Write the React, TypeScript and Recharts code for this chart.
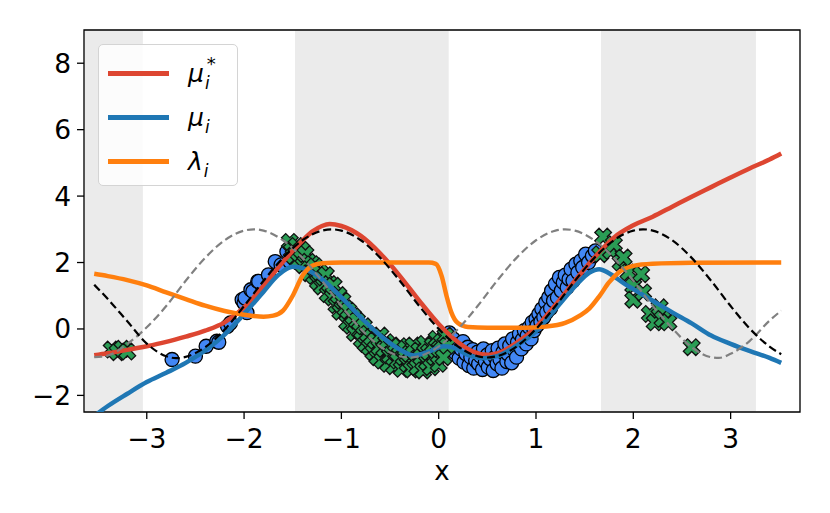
import React from "react";
import {
  ComposedChart,
  Line,
  Scatter,
  XAxis,
  YAxis,
  CartesianGrid,
  ReferenceArea,
} from "recharts";

document.body.style.margin = "0";

const FONT = "DejaVu Sans";

const X_DOMAIN: [number, number] = [-3.645, 3.713];
const Y_DOMAIN: [number, number] = [-2.5, 9];
const X_TICKS = [-3, -2, -1, 0, 1, 2, 3];
const Y_TICKS = [-2, 0, 2, 4, 6, 8];

// shaded x-intervals
const SHADED: [number, number][] = [
  [-3.645, -3.04],
  [-1.477, 0.103],
  [1.668, 3.26],
];

// black dashed: true function
const F_TRUE: [number, number][] = [
  [-3.54, 1.33], [-3.4, 0.9], [-3.2, 0.23], [-3.0, -0.44], [-2.8, -0.82], [-2.7, -0.88],
  [-2.6, -0.84], [-2.4, -0.55], [-2.2, -0.02], [-2.0, 0.69], [-1.8, 1.45], [-1.6, 2.14],
  [-1.4, 2.67], [-1.2, 2.96], [-1.1, 3.0], [-1.0, 2.96], [-0.8, 2.67], [-0.6, 2.14],
  [-0.4, 1.45], [-0.2, 0.69], [0, 0], [0.2, -0.53], [0.4, -0.82], [0.5, -0.86],
  [0.6, -0.82], [0.8, -0.53], [1.0, 0], [1.2, 0.69], [1.4, 1.45], [1.6, 2.14],
  [1.8, 2.67], [2.0, 2.96], [2.1, 3.0], [2.2, 2.96], [2.4, 2.67], [2.6, 2.14],
  [2.8, 1.45], [3.0, 0.69], [3.2, 0], [3.4, -0.53], [3.52, -0.76],
];

// gray dashed: shifted function
const F_SHIFT: [number, number][] = [
  [-3.54, -0.85], [-3.4, -0.8], [-3.2, -0.45], [-3.0, 0.05], [-2.8, 0.69], [-2.6, 1.45],
  [-2.4, 2.14], [-2.2, 2.67], [-2.0, 2.96], [-1.9, 3.0], [-1.8, 2.96], [-1.6, 2.67],
  [-1.4, 2.14], [-1.2, 1.45], [-1.0, 0.69], [-0.8, 0], [-0.6, -0.53], [-0.4, -0.82],
  [-0.3, -0.86], [-0.2, -0.82], [0, -0.53], [0.2, 0], [0.4, 0.69], [0.6, 1.45],
  [0.8, 2.14], [1.0, 2.67], [1.2, 2.96], [1.3, 3.0], [1.4, 2.96], [1.6, 2.67],
  [1.8, 2.14], [2.0, 1.45], [2.2, 0.69], [2.4, 0.02], [2.6, -0.55], [2.8, -0.85],
  [2.88, -0.87], [3.0, -0.75], [3.2, -0.35], [3.4, 0.25], [3.52, 0.55],
];

const MU_STAR: [number, number][] = [
  [-3.54, -0.79], [-3.4, -0.73], [-3.2, -0.63], [-3.0, -0.52], [-2.8, -0.39], [-2.6, -0.23],
  [-2.4, -0.05], [-2.2, 0.2], [-2.0, 0.65], [-1.8, 1.3], [-1.6, 2.02], [-1.4, 2.66],
  [-1.3, 2.93], [-1.2, 3.1], [-1.12, 3.16], [-1.0, 3.1], [-0.8, 2.8], [-0.6, 2.27],
  [-0.4, 1.6], [-0.2, 0.85], [0, 0.15], [0.2, -0.4], [0.35, -0.68], [0.5, -0.78],
  [0.65, -0.68], [0.8, -0.42], [1.0, 0.05], [1.2, 0.72], [1.4, 1.45], [1.6, 2.15],
  [1.8, 2.75], [2.0, 3.12], [2.2, 3.38], [2.4, 3.68], [2.6, 3.98], [2.8, 4.27],
  [3.0, 4.56], [3.2, 4.84], [3.4, 5.1], [3.52, 5.28],
];

const MU: [number, number][] = [
  [-3.54, -2.62], [-3.4, -2.32], [-3.2, -1.95], [-3.0, -1.6], [-2.8, -1.32], [-2.6, -1.02],
  [-2.4, -0.65], [-2.2, -0.17], [-2.0, 0.45], [-1.8, 1.12], [-1.65, 1.62], [-1.5, 1.87],
  [-1.4, 1.83], [-1.3, 1.7], [-1.2, 1.5], [-1.0, 0.95], [-0.8, 0.35], [-0.6, -0.2],
  [-0.4, -0.62], [-0.25, -0.8], [-0.1, -0.68], [0.05, -0.52], [0.15, -0.56], [0.3, -0.78],
  [0.45, -0.88], [0.6, -0.82], [0.8, -0.5], [1.0, -0.07], [1.2, 0.6], [1.4, 1.28],
  [1.55, 1.7], [1.65, 1.8], [1.75, 1.68], [1.9, 1.38], [2.0, 1.2], [2.2, 0.85],
  [2.4, 0.5], [2.6, 0.17], [2.8, -0.2], [3.0, -0.45], [3.2, -0.67], [3.4, -0.87],
  [3.52, -1.02],
];

const LAMBDA: [number, number][] = [
  [-3.54, 1.66], [-3.4, 1.59], [-3.2, 1.47], [-3.0, 1.31], [-2.8, 1.1], [-2.6, 0.9],
  [-2.4, 0.7], [-2.2, 0.54], [-2.0, 0.43], [-1.8, 0.37], [-1.7, 0.4], [-1.6, 0.55],
  [-1.5, 1.0], [-1.4, 1.6], [-1.3, 1.9], [-1.2, 1.98], [-1.0, 2.0], [-0.5, 2.0],
  [-0.1, 2.0], [-0.03, 1.96], [0.03, 1.6], [0.08, 1.0], [0.13, 0.5], [0.2, 0.17],
  [0.3, 0.06], [0.5, 0.04], [0.9, 0.04], [1.1, 0.07], [1.3, 0.18], [1.45, 0.4],
  [1.55, 0.62], [1.65, 0.98], [1.75, 1.4], [1.85, 1.7], [2.0, 1.9], [2.2, 1.96],
  [2.6, 1.99], [3.52, 2.0],
];

// blue circles (observations)
const OBS_CIRCLES: [number, number][] = [
  [-2.74, -0.92], [-2.5, -0.82], [-2.39, -0.52], [-2.28, -0.37], [-2.26, -0.4], [-2.17, 0.08],
  [-2.14, 0.18], [-2.02, 0.88], [-2.0, 0.78], [-1.99, 0.93], [-1.97, 0.49], [-1.93, 1.18],
  [-1.91, 1.13], [-1.86, 1.43], [-1.85, 1.43], [-1.75, 1.63], [-1.68, 2.03], [-1.62, 1.93],
  [-1.56, 2.33], [-1.53, 2.03], [-1.51, 2.48],
  [0.06, -0.2], [0.09, -0.42], [0.11, -0.12], [0.13, -0.55], [0.15, -0.3], [0.17, -0.72],
  [0.19, -0.48], [0.21, -0.88], [0.23, -0.6], [0.25, -0.38], [0.26, -1.0], [0.28, -0.75],
  [0.3, -0.55], [0.31, -1.1], [0.33, -0.85], [0.35, -0.62], [0.36, -1.18], [0.38, -0.95],
  [0.4, -0.7], [0.41, -1.05], [0.43, -0.82], [0.45, -1.22], [0.46, -0.6], [0.48, -0.98],
  [0.5, -0.78], [0.51, -1.15], [0.53, -0.9], [0.55, -0.65], [0.56, -1.25], [0.58, -0.85],
  [0.6, -1.05], [0.61, -0.58], [0.63, -0.92], [0.65, -1.18], [0.66, -0.7], [0.68, -0.45],
  [0.7, -0.98], [0.71, -0.75], [0.73, -0.5], [0.75, -1.02], [0.76, -0.3], [0.78, -0.65],
  [0.8, -0.85], [0.81, -0.4], [0.83, -0.15], [0.85, -0.6], [0.86, -0.32], [0.88, -0.05],
  [0.9, -0.45], [0.91, -0.2], [0.93, 0.05], [0.95, -0.3], [0.96, 0.2], [0.98, -0.05],
  [1.0, 0.3], [1.01, 0.1], [1.03, 0.45], [1.05, 0.22], [1.06, 0.6], [1.08, 0.35],
  [1.1, 0.8], [1.11, 0.5], [1.13, 0.95], [1.15, 0.62], [1.16, 1.15], [1.18, 0.85],
  [1.2, 1.35], [1.22, 0.95], [1.24, 1.55], [1.26, 1.15], [1.28, 1.4], [1.3, 1.62],
  [1.32, 1.25], [1.34, 1.5], [1.36, 1.8], [1.38, 1.45], [1.41, 1.95], [1.43, 1.7],
  [1.46, 2.05], [1.48, 1.85], [1.51, 2.25], [1.54, 2.0], [1.58, 2.2], [1.61, 2.35],
];

// green crosses (shifted observations)
const OBS_CROSSES: [number, number][] = [
  [-3.36, -0.62], [-3.3, -0.7], [-3.25, -0.6], [-3.2, -0.68],
  [-1.53, 2.62], [-1.51, 2.35], [-1.49, 2.2], [-1.46, 2.5], [-1.44, 2.05], [-1.41, 2.38],
  [-1.39, 1.92], [-1.37, 2.25], [-1.34, 2.02], [-1.33, 1.68], [-1.3, 1.95], [-1.28, 1.6],
  [-1.27, 1.88], [-1.24, 1.42], [-1.22, 1.7], [-1.2, 1.28], [-1.18, 1.55], [-1.16, 1.62],
  [-1.14, 1.05], [-1.12, 1.35], [-1.09, 0.95], [-1.08, 1.3], [-1.05, 0.72], [-1.03, 1.02],
  [-1.01, 0.52], [-0.99, 0.85], [-0.96, 0.62], [-0.94, 0.2], [-0.93, 0.55], [-0.9, 0.1],
  [-0.88, 0.38], [-0.86, -0.12], [-0.84, 0.25], [-0.81, -0.05], [-0.79, -0.32], [-0.77, 0.08],
  [-0.75, -0.45], [-0.73, -0.15], [-0.71, -0.55], [-0.69, -0.25], [-0.67, -0.7], [-0.65, -0.35],
  [-0.63, -0.85], [-0.61, -0.55], [-0.6, -0.2], [-0.58, -0.95], [-0.56, -0.6], [-0.54, -0.4],
  [-0.52, -1.05], [-0.5, -0.8], [-0.48, -0.5], [-0.46, -1.12], [-0.44, -0.7], [-0.42, -0.95],
  [-0.4, -0.52], [-0.38, -1.2], [-0.36, -0.85], [-0.34, -0.6], [-0.32, -1.05], [-0.3, -0.75],
  [-0.28, -1.22], [-0.26, -0.5], [-0.24, -0.95], [-0.22, -1.15], [-0.2, -0.65], [-0.18, -0.85],
  [-0.16, -1.25], [-0.14, -0.45], [-0.12, -1.0], [-0.1, -0.7], [-0.08, -1.15], [-0.06, -0.5],
  [-0.04, -0.85], [-0.02, -0.3], [0.0, -1.05], [0.01, -0.6], [0.03, -0.4], [0.05, -0.85],
  [0.07, -0.2], [0.09, -0.5],
  [1.69, 2.78], [1.66, 2.25], [1.77, 2.35], [1.8, 2.55], [1.87, 2.0], [1.9, 2.15],
  [1.95, 1.7], [2.0, 1.3], [2.08, 1.65], [2.0, 0.88], [2.1, 1.1], [2.17, 0.45],
  [2.22, 0.2], [2.27, 0.65], [2.3, 0.3], [2.36, 0.2], [2.6, -0.55],
];

const toRows = (pts: [number, number][]) => pts.map(([x, y]) => ({ x, y }));

const fmt = (v: number) => (v < 0 ? `\u2212${Math.abs(v)}` : `${v}`);

const RED = "#dd4631";
const BLUE = "#1f77b4";
const ORANGE = "#ff7f0e";

const W = 830;
const H = 513;
const MARGIN = { top: 30, right: 30, bottom: 0, left: 0 };
const XAXIS_H = 101;
const YAXIS_W = 84;
const TICK_FS = 26.5;

function XTick(props: any) {
  const { x, y, payload } = props;
  return (
    <text x={x} y={y} dy={19} textAnchor="middle" fontSize={TICK_FS} fontFamily={FONT} fill="#000">
      {fmt(payload.value)}
    </text>
  );
}

function YTick(props: any) {
  const { x, y, payload } = props;
  return (
    <text x={x} y={y} dy={9.5} textAnchor="end" fontSize={TICK_FS} fontFamily={FONT} fill="#000">
      {fmt(payload.value)}
    </text>
  );
}

function CircleMarker(props: any) {
  const { cx, cy } = props;
  if (cx == null || cy == null) return null;
  return <circle cx={cx} cy={cy} r={7} fill="#4287f5" stroke="#000" strokeWidth={1.3} />;
}

function CrossMarker(props: any) {
  const { cx, cy } = props;
  if (cx == null || cy == null) return null;
  // thick X: a plus rotated by 45 degrees
  const L = 8.8;
  const a = 3;
  const base = [
    [a, L], [a, a], [L, a], [L, -a], [a, -a], [a, -L],
    [-a, -L], [-a, -a], [-L, -a], [-L, a], [-a, a], [-a, L],
  ];
  const c = Math.SQRT1_2;
  const d = base
    .map(([px, py], i) => {
      const rx = (px - py) * c;
      const ry = (px + py) * c;
      return `${i === 0 ? "M" : "L"}${cx + rx},${cy + ry}`;
    })
    .join(" ") + " Z";
  return <path d={d} fill="#2a9d55" stroke="#111" strokeWidth={1.3} strokeLinejoin="miter" />;
}

const LEGEND_ITEMS = [
  { color: RED, sym: "μ", star: true },
  { color: BLUE, sym: "μ", star: false },
  { color: ORANGE, sym: "λ", star: false },
];

function LegendBox() {
  return (
    <div
      style={{
        position: "absolute",
        left: 98,
        top: 44,
        width: 140,
        height: 142,
        boxSizing: "border-box",
        border: "1.3px solid #d4d4d4",
        borderRadius: 5,
        background: "rgba(255,255,255,0.85)",
        fontFamily: FONT,
      }}
    >
      {LEGEND_ITEMS.map((it, i) => (
        <div key={i}>
          <div
            style={{
              position: "absolute",
              left: 9,
              top: 26 + i * 44,
              width: 61,
              height: 4.5,
              background: it.color,
            }}
          />
          <div
            style={{
              position: "absolute",
              left: 89,
              top: 14 + i * 44,
              height: 30,
              fontSize: 25,
              lineHeight: "30px",
              fontStyle: "italic",
              color: "#000",
              whiteSpace: "nowrap",
            }}
          >
            {it.sym}
            <span style={{ fontSize: 17, position: "relative", top: 7, marginLeft: 1 }}>i</span>
            {it.star && (
              <span style={{ fontSize: 18, fontStyle: "normal", position: "relative", top: -12, left: -3 }}>*</span>
            )}
          </div>
        </div>
      ))}
    </div>
  );
}

export default function App() {
  const layer: React.CSSProperties = { position: "absolute", left: 0, top: 0 };
  return (
    <div style={{ position: "relative", width: W, height: H, background: "#fff", fontFamily: FONT }}>
      {/* background layer: shading, grid, scattered observations */}
      <div style={layer}>
        <ComposedChart width={W} height={H} margin={MARGIN}>
          {SHADED.map(([a, b], i) => (
            <ReferenceArea
              key={i}
              x1={a}
              x2={b}
              fill="#ebebeb"
              fillOpacity={1}
              stroke="none"
              ifOverflow="hidden"
            />
          ))}
          <CartesianGrid stroke="#000" strokeOpacity={0.08} strokeWidth={1.2} />
          <XAxis type="number" dataKey="x" domain={X_DOMAIN} ticks={X_TICKS} allowDataOverflow
            height={XAXIS_H} tick={false} tickLine={false} axisLine={false} />
          <YAxis type="number" domain={Y_DOMAIN} ticks={Y_TICKS} allowDataOverflow
            width={YAXIS_W} tick={false} tickLine={false} axisLine={false} />
          <Scatter data={toRows(OBS_CIRCLES)} dataKey="y" shape={CircleMarker}
            isAnimationActive={false} legendType="none" />
          <Scatter data={toRows(OBS_CROSSES)} dataKey="y" shape={CrossMarker}
            isAnimationActive={false} legendType="none" />
        </ComposedChart>
      </div>
      {/* foreground layer: curves, axes and frame */}
      <div style={layer}>
        <ComposedChart width={W} height={H} margin={MARGIN}>
          <XAxis
            type="number"
            dataKey="x"
            domain={X_DOMAIN}
            ticks={X_TICKS}
            allowDataOverflow
            height={XAXIS_H}
            tickSize={7}
            tickMargin={10}
            tick={<XTick />}
            axisLine={false}
            tickLine={{ stroke: "#000", strokeWidth: 1.3 }}
            label={(p: any) => {
              const vb = p.viewBox;
              return (
                <text
                  x={vb.x + vb.width / 2}
                  y={vb.y + 68}
                  textAnchor="middle"
                  fontSize={26}
                  fontFamily={FONT}
                  fill="#000"
                >
                  x
                </text>
              );
            }}
          />
          <YAxis
            type="number"
            domain={Y_DOMAIN}
            ticks={Y_TICKS}
            allowDataOverflow
            width={YAXIS_W}
            tickSize={7}
            tickMargin={6}
            tick={<YTick />}
            axisLine={false}
            tickLine={{ stroke: "#000", strokeWidth: 1.3 }}
          />
          <Line data={toRows(MU_STAR)} dataKey="y" type="monotone" stroke={RED} strokeWidth={4.5}
            dot={false} activeDot={false} isAnimationActive={false} />
          <Line data={toRows(MU)} dataKey="y" type="monotone" stroke={BLUE} strokeWidth={4.5}
            dot={false} activeDot={false} isAnimationActive={false} />
          <Line data={toRows(LAMBDA)} dataKey="y" type="monotone" stroke={ORANGE} strokeWidth={4.5}
            dot={false} activeDot={false} isAnimationActive={false} />
          <Line data={toRows(F_SHIFT)} dataKey="y" type="monotone" stroke="#808080" strokeWidth={2.2}
            strokeDasharray="8 4" dot={false} activeDot={false} isAnimationActive={false} />
          <Line data={toRows(F_TRUE)} dataKey="y" type="monotone" stroke="#000" strokeWidth={2.2}
            strokeDasharray="8 4" dot={false} activeDot={false} isAnimationActive={false} />
          {/* axes frame */}
          <ReferenceArea
            x1={X_DOMAIN[0]}
            x2={X_DOMAIN[1]}
            y1={Y_DOMAIN[0]}
            y2={Y_DOMAIN[1]}
            fill="none"
            stroke="#000"
            strokeWidth={1.3}
            ifOverflow="visible"
          />
        </ComposedChart>
      </div>
      <LegendBox />
    </div>
  );
}
